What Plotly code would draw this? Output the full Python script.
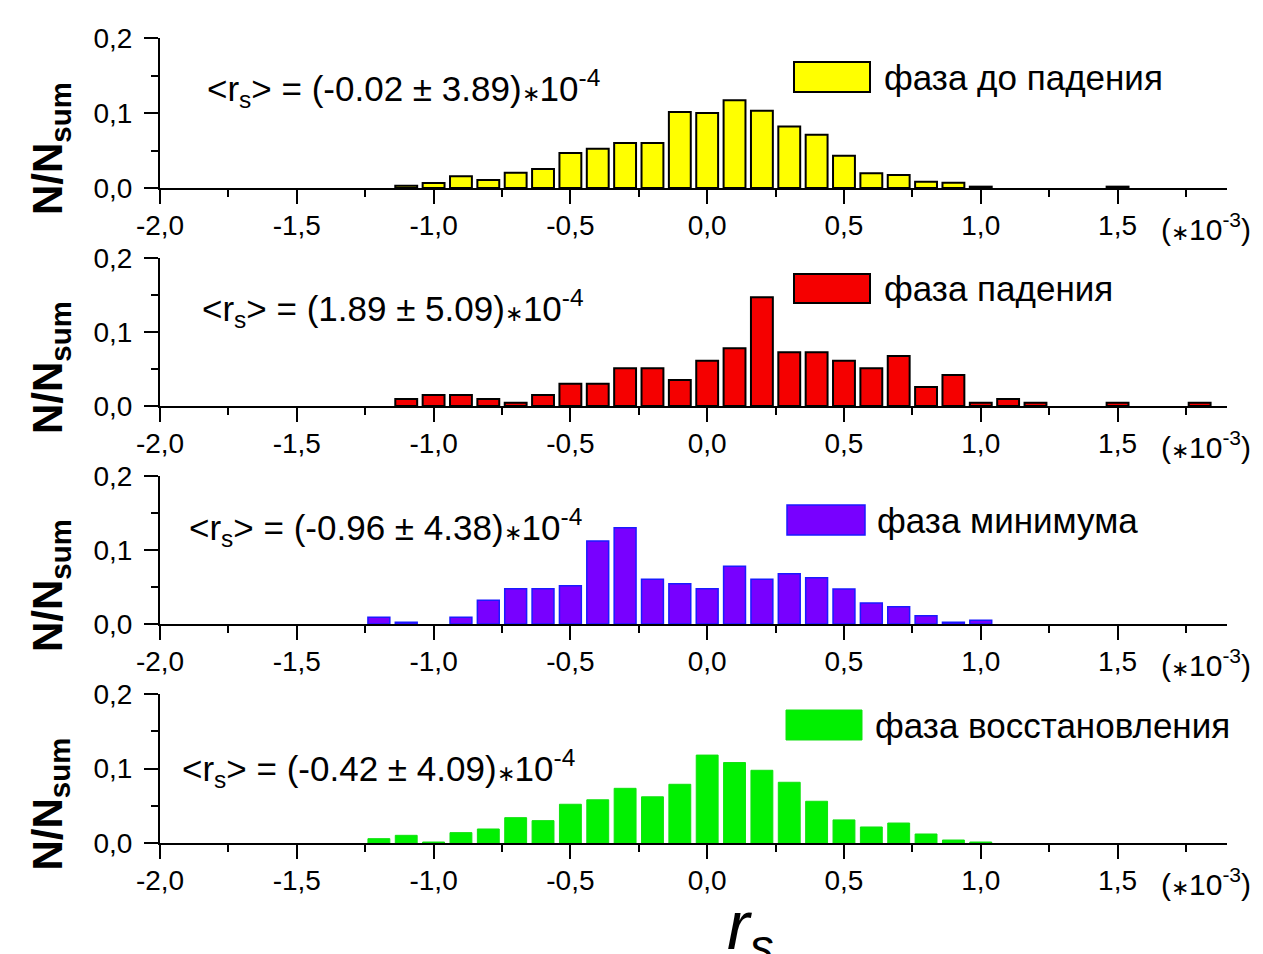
import plotly.graph_objects as go

# ---------------- data ----------------
yellow_x = [-1.1, -1.0, -0.9, -0.8, -0.7, -0.6, -0.5, -0.4, -0.3, -0.2, -0.1, 0.0,
            0.1, 0.2, 0.3, 0.4, 0.5, 0.6, 0.7, 0.8, 0.9, 1.0, 1.5]
yellow_y = [0.003, 0.0067, 0.0156, 0.0107, 0.0204, 0.0253, 0.0467, 0.0524, 0.060, 0.060,
            0.1013, 0.100, 0.117, 0.103, 0.082, 0.071, 0.043, 0.0196, 0.0173, 0.0084,
            0.0071, 0.0018, 0.0018]

red_x = [-1.1, -1.0, -0.9, -0.8, -0.7, -0.6, -0.5, -0.4, -0.3, -0.2, -0.1, 0.0,
         0.1, 0.2, 0.3, 0.4, 0.5, 0.6, 0.7, 0.8, 0.9, 1.0, 1.1, 1.2, 1.5, 1.8]
red_y = [0.0095, 0.0149, 0.0149, 0.0095, 0.0045, 0.0149, 0.030, 0.030, 0.051, 0.051,
         0.035, 0.061, 0.078, 0.147, 0.0725, 0.0725, 0.061, 0.051, 0.0676, 0.0257,
         0.042, 0.0045, 0.0095, 0.0045, 0.0045, 0.0045]

violet_x = [-1.2, -1.1, -0.9, -0.8, -0.7, -0.6, -0.5, -0.4, -0.3, -0.2, -0.1, 0.0,
            0.1, 0.2, 0.3, 0.4, 0.5, 0.6, 0.7, 0.8, 0.9, 1.0]
violet_y = [0.009, 0.0022, 0.009, 0.032, 0.0477, 0.0477, 0.0518, 0.112, 0.130, 0.0604,
            0.0545, 0.0477, 0.078, 0.0604, 0.068, 0.0626, 0.0473, 0.0284, 0.0234,
            0.0113, 0.0022, 0.005]

green_x = [-1.2, -1.1, -1.0, -0.9, -0.8, -0.7, -0.6, -0.5, -0.4, -0.3, -0.2, -0.1,
           0.0, 0.1, 0.2, 0.3, 0.4, 0.5, 0.6, 0.7, 0.8, 0.9, 1.0]
green_y = [0.0058, 0.0103, 0.0013, 0.0139, 0.0188, 0.034, 0.030, 0.052, 0.058, 0.0734,
           0.062, 0.0788, 0.118, 0.108, 0.0976, 0.0815, 0.056, 0.031, 0.0215, 0.0268,
           0.0121, 0.004, 0.0013]

phase_names = ["фаза до падения", "фаза падения", "фаза минимума", "фаза восстановления"]
mean_texts = ["-0.02 ± 3.89", "1.89 ± 5.09", "-0.96 ± 4.38", "-0.42 ± 4.09"]

x_tickvals = [-2.0, -1.5, -1.0, -0.5, 0.0, 0.5, 1.0, 1.5]
x_ticktext = ["-2,0", "-1,5", "-1,0", "-0,5", "0,0", "0,5", "1,0", "1,5"]
y_tickvals = [0.0, 0.1, 0.2]
y_ticktext = ["0,0", "0,1", "0,2"]

# ---------------- layout helpers ----------------
W, H = 1263, 954
FONT = "Liberation Sans, Arial, sans-serif"
STAR = '<span style="font-size:22px">∗</span>'


def px(x):
    return x / W


def py(y):
    return 1 - y / H


series = [
    (yellow_x, yellow_y, "#ffff00", "#000000", 2),
    (red_x, red_y, "#f50000", "#000000", 2),
    (violet_x, violet_y, "#7800ff", "#1a1aff", 1.5),
    (green_x, green_y, "#00f000", "#10e010", 1),
]

# panel pixel bounds (top, bottom) of y-range [0, 0.2]
panels = [(38, 188), (258, 406), (476, 624), (694, 843)]
x_dom = [px(160), px(1227)]

fig = go.Figure()
layout = dict(
    width=W, height=H, margin=dict(l=0, r=0, t=0, b=0, autoexpand=False),
    paper_bgcolor="white", plot_bgcolor="white",
    showlegend=False, bargap=0.2,
    font=dict(family=FONT, color="black", size=28),
)

annotations = []
shapes = []

for i, ((xs, ys, fc, lc, lw), (top, bot)) in enumerate(zip(series, panels)):
    n = i + 1
    xa = "x" if n == 1 else f"x{n}"
    ya = "y" if n == 1 else f"y{n}"
    fig.add_trace(go.Bar(x=xs, y=ys, xaxis=xa, yaxis=ya,
                         marker=dict(color=fc, line=dict(color=lc, width=lw))))
    xkey = "xaxis" if n == 1 else f"xaxis{n}"
    ykey = "yaxis" if n == 1 else f"yaxis{n}"
    layout[xkey] = dict(
        domain=x_dom, anchor=ya, range=[-2.0, 1.9], automargin=False,
        tickmode="array", tickvals=x_tickvals, ticktext=x_ticktext,
        ticks="outside", ticklen=14, tickwidth=2, tickcolor="black",
        showline=True, linecolor="black", linewidth=2, showgrid=False, zeroline=False,
        tickfont=dict(family=FONT, size=28, color="black"),
        ticklabelstandoff=-3,
        minor=dict(tickmode="linear", tick0=-2.0, dtick=0.25, ticks="outside",
                   ticklen=7, tickwidth=2, tickcolor="black", showgrid=False),
    )
    layout[ykey] = dict(
        domain=[py(bot), py(top)], anchor=xa, range=[0, 0.2], automargin=False,
        tickmode="array", tickvals=y_tickvals, ticktext=y_ticktext,
        ticks="outside", ticklen=14, tickwidth=2, tickcolor="black",
        showline=True, linecolor="black", linewidth=2, showgrid=False, zeroline=False,
        tickfont=dict(family=FONT, size=28, color="black"),
        ticklabelstandoff=6,
        minor=dict(tickmode="linear", tick0=0, dtick=0.05, ticks="outside",
                   ticklen=7, tickwidth=2, tickcolor="black", showgrid=False),
    )

    # y-axis title
    ymid = (top + bot) / 2 + 36
    annotations.append(dict(
        xref="paper", yref="paper", x=px(50), y=py(ymid), xanchor="center", yanchor="middle",
        text="<b>N/N<sub>sum</sub></b>", textangle=-90, showarrow=False,
        font=dict(family=FONT, size=42, color="black")))

    # (*10^-3) label
    annotations.append(dict(
        xref="paper", yref="paper", x=px(1206), y=py(bot + 39), xanchor="center", yanchor="middle",
        text=f"({STAR}10<sup>-3</sup>)", showarrow=False,
        font=dict(family=FONT, size=30, color="black")))

# mean value texts
mean_pos = [(205, 88), (200, 308), (187, 527), (180, 768)]
for (mx, my), t in zip(mean_pos, mean_texts):
    annotations.append(dict(
        xref="paper", yref="paper", x=px(mx), y=py(my), xanchor="left", yanchor="middle",
        text=f"&lt;r<sub>s</sub>&gt; = ({t}){STAR}10<sup>-4</sup>", showarrow=False,
        font=dict(family=FONT, size=35, color="black")))

# legend boxes + labels
leg = [(794, 870, 62, 92, 882), (794, 870, 274, 303, 882),
       (787, 865, 505, 535, 875), (786, 862, 710, 740, 873)]
for (x0, x1, y0, y1, tx), (xs, ys, fc, lc, lw), name in zip(leg, series, phase_names):
    shapes.append(dict(type="rect", xref="paper", yref="paper",
                       x0=px(x0), x1=px(x1), y0=py(y1), y1=py(y0),
                       fillcolor=fc, line=dict(color=lc, width=lw)))
    annotations.append(dict(
        xref="paper", yref="paper", x=px(tx), y=py((y0 + y1) / 2), xanchor="left", yanchor="middle",
        text=name, showarrow=False, font=dict(family=FONT, size=35, color="black")))

# bottom x title
annotations.append(dict(
    xref="paper", yref="paper", x=px(750), y=py(930), xanchor="center", yanchor="middle",
    text="<i>r<sub>s</sub></i>", showarrow=False,
    font=dict(family=FONT, size=68, color="black")))

layout["annotations"] = annotations
layout["shapes"] = shapes
fig.update_layout(**layout)
fig.write_html("out.html")
